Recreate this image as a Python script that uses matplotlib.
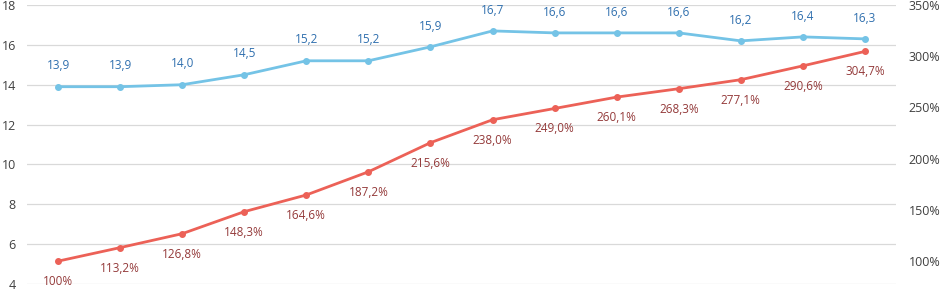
import numpy as np
import matplotlib.pyplot as plt

plt.rcParams['font.family'] = ['Open Sans', 'DejaVu Sans']

# данные
values = [13.9, 13.9, 14.0, 14.5, 15.2, 15.2, 15.9, 16.7, 16.6, 16.6, 16.6, 16.2, 16.4, 16.3]
growth = [100, 113.2, 126.8, 148.3, 164.6, 187.2, 215.6, 238.0, 249.0, 260.1, 268.3, 277.1, 290.6, 304.7]
left_ticks = [4, 6, 8, 10, 12, 14, 16, 18]
right_ticks = [100, 150, 200, 250, 300, 350]

blue = '#74c3e6'
red = '#ec6157'
blue_txt = '#2f6fae'
red_txt = '#943a3a'
tick_col = '#404040'

x = np.arange(len(values))

fig = plt.figure(figsize=(9.43, 2.91), dpi=100)
ax = fig.add_axes([27 / 943, 7 / 291, (896 - 27) / 943, (285 - 6) / 291])
ax2 = ax.twinx()

ax.set_xlim(-0.5, len(values) - 0.5)
ax.set_ylim(4, 18)
ax.set_yticks(left_ticks)
ax.set_yticklabels([str(t) for t in left_ticks])
ax.grid(axis='y', color='#d9d9d9', lw=0.9)
ax.set_axisbelow(True)
ax.set_xticks([])

ax2.set_ylim(77.7, 350)
ax2.set_yticks(right_ticks)
ax2.set_yticklabels([f'{t}%' for t in right_ticks])

for a in (ax, ax2):
    for s in a.spines.values():
        s.set_visible(False)
    a.tick_params(axis='y', length=0, labelsize=9, labelcolor=tick_col)
ax.tick_params(axis='y', pad=8)
ax2.tick_params(axis='y', pad=9)

ax.plot(x, values, color=blue, lw=2, marker='o', ms=4, zorder=3)
ax2.plot(x, growth, color=red, lw=2, marker='o', ms=4, zorder=3)

for xi, v in zip(x, values):
    ax.annotate(f'{v:.1f}'.replace('.', ','), (xi, v), xytext=(0, 15),
                textcoords='offset points', ha='center', va='center',
                fontsize=8.5, color=blue_txt)

for xi, g in zip(x, growth):
    lab = '100%' if g == 100 else f'{g:.1f}%'.replace('.', ',')
    ax2.annotate(lab, (xi, g), xytext=(0, -10), textcoords='offset points',
                 ha='center', va='top', fontsize=8.5, color=red_txt)

fig.savefig('out.png', dpi=100)
